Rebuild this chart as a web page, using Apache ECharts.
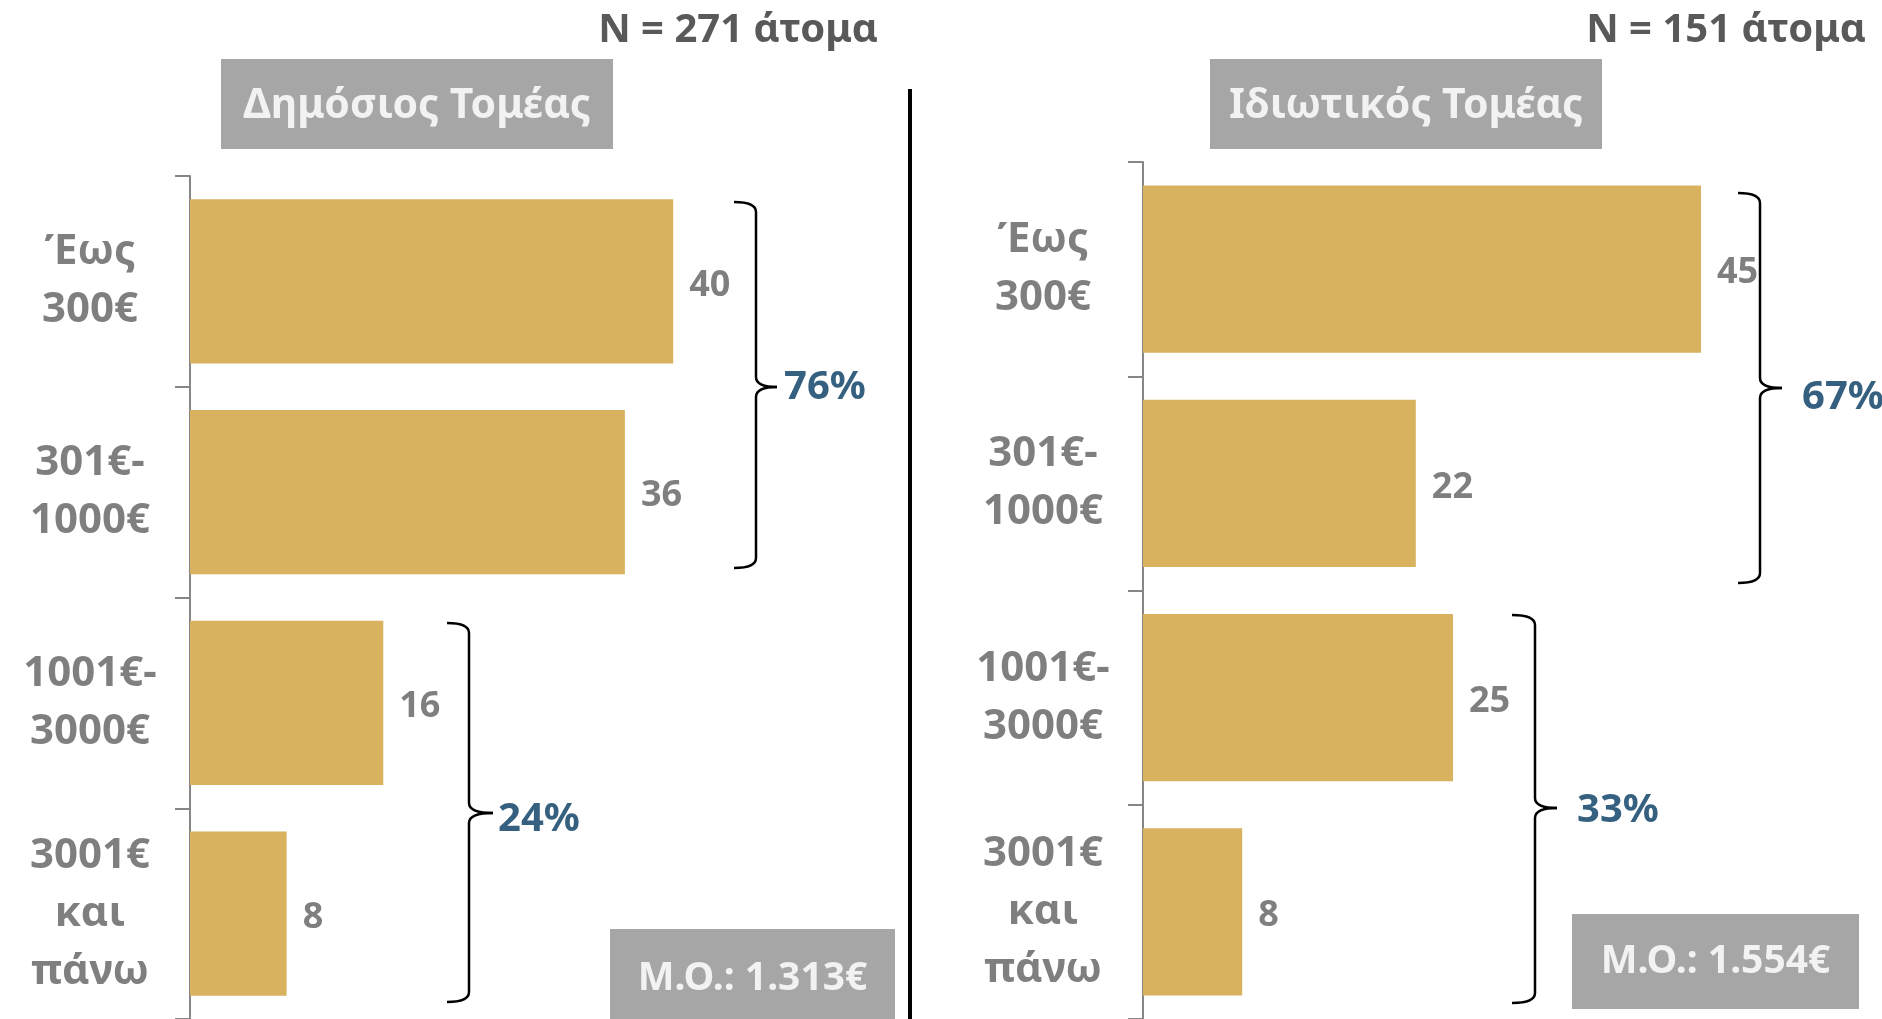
<!DOCTYPE html>
<html>
<head>
<meta charset="utf-8">
<script src="https://cdn.jsdelivr.net/npm/echarts@6/dist/echarts.min.js"></script>
<style>
  html, body { margin: 0; padding: 0; background: #fff; }
  #chart { width: 1882px; height: 1019px; }
</style>
</head>
<body>
<div id="chart"></div>
<script>
// κατηγορίες εισοδήματος (ίδιες και για τους δύο τομείς)
var categories = ['Έως\n300€', '301€-\n1000€', '1001€-\n3000€', '3001€\nκαι\nπάνω'];
var publicValues = [40, 36, 16, 8];
var privateValues = [45, 22, 25, 8];

var panelTitles = ['Δημόσιος Τομέας', 'Ιδιωτικός Τομέας'];
var sampleSizes = ['N = 271 άτομα', 'N = 151 άτομα'];
var meanLabels = ['Μ.Ο.: 1.313€', 'Μ.Ο.: 1.554€'];
var publicShares = ['76%', '24%'];
var privateShares = ['67%', '33%'];

var fontName = 'Noto Sans';
var barColor = '#d8b25e';
var labelGray = '#7f7f7f';
var shareColor = '#35607f';

var chart = echarts.init(document.getElementById('chart'));

// άγκιστρο "}" από καμπύλες και γραμμές
function brace(x0, xv, xt, top, mid, bottom) {
    var st = { stroke: '#000', lineWidth: 2.5, fill: null };
    var r = 10;
    return {
        type: 'group',
        children: [
            { type: 'bezierCurve', shape: { x1: x0, y1: top, cpx1: xv, cpy1: top, x2: xv, y2: top + r }, style: st },
            { type: 'line', shape: { x1: xv, y1: top + r, x2: xv, y2: mid - r }, style: st },
            { type: 'bezierCurve', shape: { x1: xv, y1: mid - r, cpx1: xv, cpy1: mid, x2: xt, y2: mid }, style: st },
            { type: 'bezierCurve', shape: { x1: xt, y1: mid, cpx1: xv, cpy1: mid, x2: xv, y2: mid + r }, style: st },
            { type: 'line', shape: { x1: xv, y1: mid + r, x2: xv, y2: bottom - r }, style: st },
            { type: 'bezierCurve', shape: { x1: xv, y1: bottom - r, cpx1: xv, cpy1: bottom, x2: x0, y2: bottom }, style: st }
        ]
    };
}

function shareText(txt, x, y) {
    return {
        type: 'text', x: x, y: y,
        style: { text: txt, fill: shareColor, font: 'bold 40px "' + fontName + '"', textAlign: 'left', textVerticalAlign: 'middle' }
    };
}

function titleBox(txt, x, y, w, h) {
    return {
        type: 'group',
        children: [
            { type: 'rect', shape: { x: x, y: y, width: w, height: h }, style: { fill: '#a6a6a6' } },
            { type: 'text', x: x + w / 2, y: y + h / 2 + 2,
              style: { text: txt, fill: '#f2f2f2', font: 'bold 41px "' + fontName + '"', textAlign: 'center', textVerticalAlign: 'middle' } }
        ]
    };
}

function meanBox(txt, x, y, w, h) {
    return {
        type: 'group',
        children: [
            { type: 'rect', shape: { x: x, y: y, width: w, height: h }, style: { fill: '#a6a6a6' } },
            { type: 'text', x: x + w / 2, y: y + h / 2,
              style: { text: txt, fill: '#f2f2f2', font: 'bold 39px "' + fontName + '"', textAlign: 'center', textVerticalAlign: 'middle' } }
        ]
    };
}

function yAxisFor(gridIndex) {
    return {
        type: 'category',
        gridIndex: gridIndex,
        data: categories,
        inverse: true,
        axisLine: { show: true, lineStyle: { color: '#868686', width: 2 } },
        axisTick: { show: true, length: 15, lineStyle: { color: '#868686', width: 2 } },
        axisLabel: {
            interval: 0,
            margin: 100,
            align: 'center',
            padding: [6, 0, 0, 0],
            color: labelGray,
            fontFamily: fontName,
            fontWeight: 'bold',
            fontSize: 42,
            lineHeight: 58
        },
        splitLine: { show: false }
    };
}

function barSeries(idx, values) {
    return {
        type: 'bar',
        xAxisIndex: idx,
        yAxisIndex: idx,
        data: values,
        barCategoryGap: '22%',
        itemStyle: { color: barColor },
        label: {
            show: true,
            position: 'right',
            distance: 16,
            offset: [0, 4],
            color: labelGray,
            fontFamily: fontName,
            fontWeight: 'bold',
            fontSize: 36
        },
        silent: true,
        animation: false
    };
}

var option = {
    backgroundColor: '#ffffff',
    animation: false,
    grid: [
        { left: 190, top: 176, width: 604, height: 846 },
        { left: 1143, top: 162, width: 620, height: 859 }
    ],
    xAxis: [
        { type: 'value', gridIndex: 0, min: 0, max: 50, show: false },
        { type: 'value', gridIndex: 1, min: 0, max: 50, show: false }
    ],
    yAxis: [yAxisFor(0), yAxisFor(1)],
    series: [barSeries(0, publicValues), barSeries(1, privateValues)],
    graphic: [
        // διαχωριστική γραμμή
        { type: 'line', shape: { x1: 910, y1: 89, x2: 910, y2: 1019 }, style: { stroke: '#000', lineWidth: 4 } },

        { type: 'text', x: 878, y: 31,
          style: { text: sampleSizes[0], fill: '#595959', font: 'bold 40px "' + fontName + '"', textAlign: 'right', textVerticalAlign: 'middle' } },
        { type: 'text', x: 1866, y: 31,
          style: { text: sampleSizes[1], fill: '#595959', font: 'bold 40px "' + fontName + '"', textAlign: 'right', textVerticalAlign: 'middle' } },

        titleBox(panelTitles[0], 221, 59, 392, 90),
        titleBox(panelTitles[1], 1210, 59, 392, 90),

        brace(734, 756, 777, 202, 387, 568),
        shareText(publicShares[0], 784, 388),
        brace(447, 469, 493, 623, 813, 1002),
        shareText(publicShares[1], 498, 820),

        brace(1738, 1760, 1782, 193, 388, 583),
        shareText(privateShares[0], 1802, 398),
        brace(1512, 1535, 1557, 615, 808, 1003),
        shareText(privateShares[1], 1577, 811),

        meanBox(meanLabels[0], 610, 929, 285, 100),
        meanBox(meanLabels[1], 1572, 914, 287, 95)
    ]
};

chart.setOption(option);
</script>
</body>
</html>
